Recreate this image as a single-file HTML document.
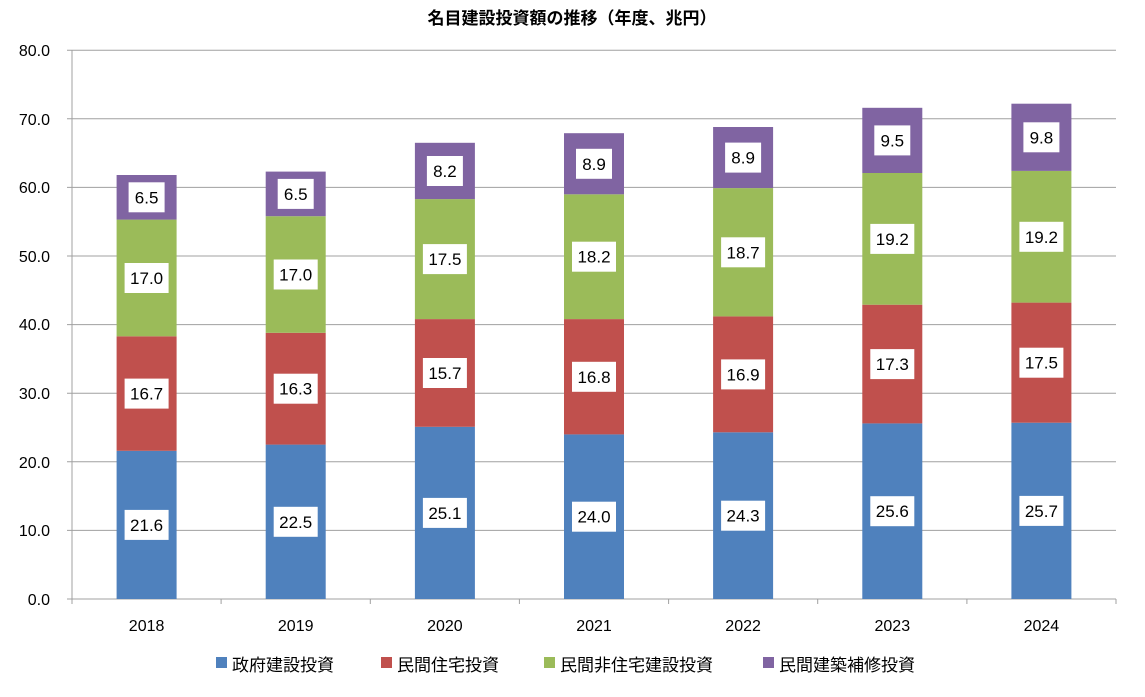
<!DOCTYPE html>
<html><head><meta charset="utf-8"><style>
body{margin:0;background:#fff}
svg text{font-family:"Liberation Sans","Noto Sans CJK JP",sans-serif}
</style></head><body>
<svg width="1145" height="692" xmlns="http://www.w3.org/2000/svg">
<rect width="1145" height="692" fill="#fff"/>
<text x="572" y="24" text-anchor="middle" font-size="17" font-weight="bold" fill="#000">名目建設投資額の推移（年度、兆円）</text>
<g stroke="#a0a0a0" stroke-width="1">
<line x1="67" x2="1116" y1="50.2" y2="50.2"/>
<line x1="67" x2="1116" y1="118.8" y2="118.8"/>
<line x1="67" x2="1116" y1="187.4" y2="187.4"/>
<line x1="67" x2="1116" y1="256" y2="256"/>
<line x1="67" x2="1116" y1="324.6" y2="324.6"/>
<line x1="67" x2="1116" y1="393.2" y2="393.2"/>
<line x1="67" x2="1116" y1="461.8" y2="461.8"/>
<line x1="67" x2="1116" y1="530.4" y2="530.4"/>
<line x1="67" x2="1116" y1="599" y2="599"/>
<line x1="72" x2="72" y1="50" y2="599"/>
<line x1="72" x2="72" y1="599" y2="604"/>
<line x1="221.1" x2="221.1" y1="599" y2="604"/>
<line x1="370.3" x2="370.3" y1="599" y2="604"/>
<line x1="519.4" x2="519.4" y1="599" y2="604"/>
<line x1="668.6" x2="668.6" y1="599" y2="604"/>
<line x1="817.7" x2="817.7" y1="599" y2="604"/>
<line x1="966.9" x2="966.9" y1="599" y2="604"/>
<line x1="1116" x2="1116" y1="599" y2="604"/>
</g>
<g font-size="16" fill="#000" text-anchor="end">
<text x="50" y="56">80.0</text><text x="50" y="125">70.0</text><text x="50" y="193">60.0</text>
<text x="50" y="262">50.0</text><text x="50" y="330">40.0</text><text x="50" y="399">30.0</text>
<text x="50" y="468">20.0</text><text x="50" y="536">10.0</text><text x="50" y="605">0.0</text>
</g>
<g font-size="16" fill="#000" text-anchor="middle">
<text x="146.6" y="631">2018</text><text x="295.7" y="631">2019</text><text x="444.9" y="631">2020</text>
<text x="594" y="631">2021</text><text x="743.1" y="631">2022</text><text x="892.3" y="631">2023</text><text x="1041.4" y="631">2024</text>
</g>
<!-- bars -->
<g>
<rect x="116.6" y="450.8" width="60" height="148.2" fill="#4f81bd"/>
<rect x="116.6" y="336.3" width="60" height="114.5" fill="#c0504d"/>
<rect x="116.6" y="219.6" width="60" height="116.7" fill="#9bbb59"/>
<rect x="116.6" y="175.0" width="60" height="44.6" fill="#8064a2"/>

<rect x="265.7" y="444.6" width="60" height="154.4" fill="#4f81bd"/>
<rect x="265.7" y="332.8" width="60" height="111.8" fill="#c0504d"/>
<rect x="265.7" y="216.2" width="60" height="116.6" fill="#9bbb59"/>
<rect x="265.7" y="171.6" width="60" height="44.6" fill="#8064a2"/>

<rect x="414.9" y="426.8" width="60" height="172.2" fill="#4f81bd"/>
<rect x="414.9" y="319.1" width="60" height="107.7" fill="#c0504d"/>
<rect x="414.9" y="199.1" width="60" height="120.0" fill="#9bbb59"/>
<rect x="414.9" y="142.8" width="60" height="56.3" fill="#8064a2"/>

<rect x="564.0" y="434.4" width="60" height="164.6" fill="#4f81bd"/>
<rect x="564.0" y="319.1" width="60" height="115.3" fill="#c0504d"/>
<rect x="564.0" y="194.3" width="60" height="124.8" fill="#9bbb59"/>
<rect x="564.0" y="133.2" width="60" height="61.1" fill="#8064a2"/>

<rect x="713.1" y="432.3" width="60" height="166.7" fill="#4f81bd"/>
<rect x="713.1" y="316.4" width="60" height="115.9" fill="#c0504d"/>
<rect x="713.1" y="188.1" width="60" height="128.3" fill="#9bbb59"/>
<rect x="713.1" y="127.0" width="60" height="61.1" fill="#8064a2"/>

<rect x="862.3" y="423.4" width="60" height="175.6" fill="#4f81bd"/>
<rect x="862.3" y="304.7" width="60" height="118.7" fill="#c0504d"/>
<rect x="862.3" y="173.0" width="60" height="131.7" fill="#9bbb59"/>
<rect x="862.3" y="107.8" width="60" height="65.2" fill="#8064a2"/>

<rect x="1011.4" y="422.7" width="60" height="176.3" fill="#4f81bd"/>
<rect x="1011.4" y="302.6" width="60" height="120.1" fill="#c0504d"/>
<rect x="1011.4" y="170.9" width="60" height="131.7" fill="#9bbb59"/>
<rect x="1011.4" y="103.7" width="60" height="67.2" fill="#8064a2"/>
</g>
<!-- labels -->
<g font-size="17" fill="#000" text-anchor="middle">
<g transform="translate(146.6,524.9)"><rect x="-22" y="-15" width="44" height="30" fill="#fff"/><text y="6">21.6</text></g>
<g transform="translate(146.6,393.6)"><rect x="-22" y="-15" width="44" height="30" fill="#fff"/><text y="6">16.7</text></g>
<g transform="translate(146.6,278.0)"><rect x="-22" y="-15" width="44" height="30" fill="#fff"/><text y="6">17.0</text></g>
<g transform="translate(146.6,197.3)"><rect x="-18" y="-15" width="36" height="30" fill="#fff"/><text y="6">6.5</text></g>

<g transform="translate(295.7,521.8)"><rect x="-22" y="-15" width="44" height="30" fill="#fff"/><text y="6">22.5</text></g>
<g transform="translate(295.7,388.7)"><rect x="-22" y="-15" width="44" height="30" fill="#fff"/><text y="6">16.3</text></g>
<g transform="translate(295.7,274.5)"><rect x="-22" y="-15" width="44" height="30" fill="#fff"/><text y="6">17.0</text></g>
<g transform="translate(295.7,193.9)"><rect x="-18" y="-15" width="36" height="30" fill="#fff"/><text y="6">6.5</text></g>

<g transform="translate(444.9,512.9)"><rect x="-22" y="-15" width="44" height="30" fill="#fff"/><text y="6">25.1</text></g>
<g transform="translate(444.9,373.0)"><rect x="-22" y="-15" width="44" height="30" fill="#fff"/><text y="6">15.7</text></g>
<g transform="translate(444.9,259.1)"><rect x="-22" y="-15" width="44" height="30" fill="#fff"/><text y="6">17.5</text></g>
<g transform="translate(444.9,171.0)"><rect x="-18" y="-15" width="36" height="30" fill="#fff"/><text y="6">8.2</text></g>

<g transform="translate(594,516.7)"><rect x="-22" y="-15" width="44" height="30" fill="#fff"/><text y="6">24.0</text></g>
<g transform="translate(594,376.8)"><rect x="-22" y="-15" width="44" height="30" fill="#fff"/><text y="6">16.8</text></g>
<g transform="translate(594,256.7)"><rect x="-22" y="-15" width="44" height="30" fill="#fff"/><text y="6">18.2</text></g>
<g transform="translate(594,163.8)"><rect x="-18" y="-15" width="36" height="30" fill="#fff"/><text y="6">8.9</text></g>

<g transform="translate(743.1,515.7)"><rect x="-22" y="-15" width="44" height="30" fill="#fff"/><text y="6">24.3</text></g>
<g transform="translate(743.1,374.4)"><rect x="-22" y="-15" width="44" height="30" fill="#fff"/><text y="6">16.9</text></g>
<g transform="translate(743.1,252.3)"><rect x="-22" y="-15" width="44" height="30" fill="#fff"/><text y="6">18.7</text></g>
<g transform="translate(743.1,157.6)"><rect x="-18" y="-15" width="36" height="30" fill="#fff"/><text y="6">8.9</text></g>

<g transform="translate(892.3,511.2)"><rect x="-22" y="-15" width="44" height="30" fill="#fff"/><text y="6">25.6</text></g>
<g transform="translate(892.3,364.1)"><rect x="-22" y="-15" width="44" height="30" fill="#fff"/><text y="6">17.3</text></g>
<g transform="translate(892.3,238.9)"><rect x="-22" y="-15" width="44" height="30" fill="#fff"/><text y="6">19.2</text></g>
<g transform="translate(892.3,140.4)"><rect x="-18" y="-15" width="36" height="30" fill="#fff"/><text y="6">9.5</text></g>

<g transform="translate(1041.4,510.9)"><rect x="-22" y="-15" width="44" height="30" fill="#fff"/><text y="6">25.7</text></g>
<g transform="translate(1041.4,362.7)"><rect x="-22" y="-15" width="44" height="30" fill="#fff"/><text y="6">17.5</text></g>
<g transform="translate(1041.4,236.8)"><rect x="-22" y="-15" width="44" height="30" fill="#fff"/><text y="6">19.2</text></g>
<g transform="translate(1041.4,137.3)"><rect x="-18" y="-15" width="36" height="30" fill="#fff"/><text y="6">9.8</text></g>
</g>
<g font-size="17" fill="#000">
<rect x="216" y="657" width="11" height="11" fill="#4f81bd"/><text x="232" y="671">政府建設投資</text>
<rect x="381" y="657" width="11" height="11" fill="#c0504d"/><text x="397" y="671">民間住宅投資</text>
<rect x="544" y="657" width="11" height="11" fill="#9bbb59"/><text x="560" y="671">民間非住宅建設投資</text>
<rect x="763" y="657" width="11" height="11" fill="#8064a2"/><text x="779" y="671">民間建築補修投資</text>
</g>
</svg>
</body></html>
